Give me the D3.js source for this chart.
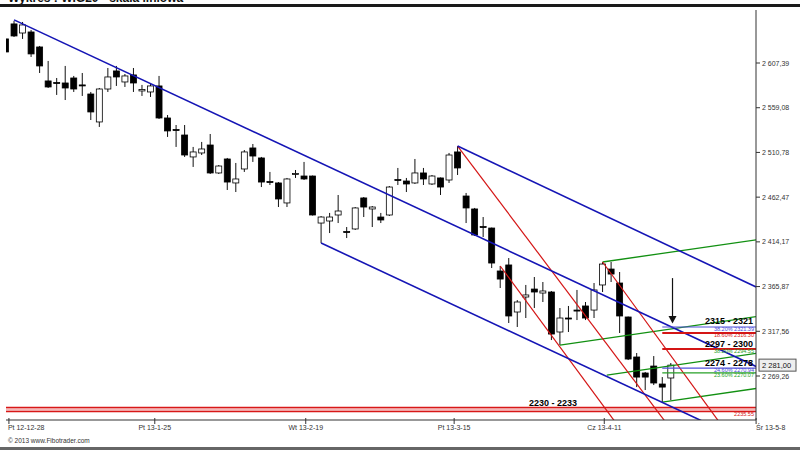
<!DOCTYPE html>
<html><head><meta charset="utf-8">
<script src="https://cdn.jsdelivr.net/npm/d3@7"></script>
<style>body{margin:0;background:#fff}svg{display:block}text{font-family:"Liberation Sans",Arial,sans-serif}</style>
</head><body><svg id="c" width="800" height="450"></svg>
<script>
// ---- data ----
const openV=[2633.4,2649.6,2639.8,2640.9,2624.7,2588.0,2586.3,2585.8,2591.2,2583.7,2573.9,2543.7,2579.3,2598.8,2586.9,2594.5,2577.2,2576.1,2582.6,2548.0,2535.5,2529.6,2505.9,2510.2,2518.8,2488.6,2503.7,2477.8,2492.9,2515.6,2504.8,2479.3,2477.8,2456.2,2487.5,2485.3,2485.3,2434.5,2436.7,2443.2,2425.3,2428.1,2461.6,2449.7,2441.0,2443.2,2481.5,2479.9,2477.8,2488.6,2476.7,2483.2,2481.0,2511.3,2463.7,2449.7,2430.7,2429.1,2382.7,2389.2,2338.4,2354.6,2363.2,2358.9,2360.0,2316.8,2331.9,2340.5,2344.9,2340.5,2367.6,2384.8,2369.7,2333.0,2289.8,2272.5,2280.0,2260.6,2267.1];
const highV=[2634.4,2652.8,2651.7,2643.1,2625.8,2609.6,2591.2,2604.2,2593.4,2596.6,2576.1,2580.4,2602.0,2604.2,2595.5,2602.0,2583.7,2584.7,2593.4,2551.2,2540.4,2540.4,2516.7,2522.1,2530.7,2497.2,2504.8,2499.4,2513.4,2519.9,2505.9,2489.7,2478.8,2483.2,2491.8,2500.5,2485.8,2442.1,2445.4,2464.8,2430.2,2451.8,2462.6,2452.9,2445.4,2474.5,2494.0,2483.2,2503.7,2494.0,2486.4,2483.7,2510.2,2517.7,2467.0,2450.8,2441.0,2429.6,2388.1,2396.7,2351.3,2367.6,2376.2,2370.8,2361.1,2342.7,2344.9,2362.2,2349.2,2369.7,2392.4,2392.4,2381.6,2333.5,2294.1,2273.6,2290.8,2268.1,2283.3];
const lowV=[2618.2,2635.5,2633.4,2613.9,2596.6,2580.4,2572.9,2567.4,2576.1,2571.8,2545.8,2538.3,2576.1,2582.6,2581.5,2576.1,2571.8,2570.7,2546.9,2527.5,2516.7,2505.9,2495.1,2508.0,2487.5,2487.5,2470.2,2468.0,2489.7,2500.5,2473.4,2475.6,2451.8,2451.8,2483.2,2481.0,2442.6,2412.9,2423.7,2434.5,2418.3,2427.0,2441.0,2430.2,2434.5,2442.1,2475.6,2468.0,2476.7,2475.6,2475.6,2464.8,2477.8,2486.4,2434.5,2420.5,2419.4,2385.9,2364.3,2326.5,2322.2,2331.9,2342.7,2349.2,2308.1,2302.7,2316.8,2329.7,2329.7,2331.9,2360.0,2370.8,2315.7,2286.5,2257.3,2254.1,2259.5,2241.1,2243.3];
const closeV=[2619.3,2636.6,2648.5,2617.2,2604.2,2581.5,2585.3,2580.4,2579.3,2583.2,2554.5,2579.3,2592.3,2592.3,2593.4,2585.8,2578.8,2582.6,2548.0,2534.0,2534.5,2508.0,2511.3,2514.5,2488.6,2496.1,2478.8,2482.1,2511.3,2506.9,2478.8,2478.8,2460.5,2482.1,2488.0,2482.1,2443.2,2441.0,2441.0,2447.5,2424.8,2450.8,2451.8,2451.8,2437.8,2473.4,2481.0,2476.7,2488.6,2482.1,2485.3,2473.4,2508.0,2494.0,2450.8,2421.6,2430.2,2391.3,2374.0,2334.1,2349.2,2356.8,2360.0,2361.1,2314.6,2331.9,2331.4,2340.0,2331.9,2362.2,2390.2,2379.4,2334.1,2287.6,2268.1,2268.1,2261.7,2257.3,2281.0];

const xTickLabels=["Pt 12-12-28","Pt 13-1-25","Wt 13-2-19","Pt 13-3-15","Cz 13-4-11","Śr 13-5-8"];
const xTickSlots=[0.4,17.5,35.2,52.6,70.2,88];
const yTickValues=[2269.26,2317.56,2365.87,2414.17,2462.47,2510.78,2559.08,2607.39];
const lastPrice=2281.00;

// trend lines: [slotStart, valueStart, slotEnd, valueEnd]
const blueLines=[[1,2654.0,88,2279.6],[37,2412.9,88,2193.4],[53,2517.7,88,2365.4]];
const redLines=[[53,2517.7,80,2187.5],[58,2388.1,74,2188.1],[70,2392.4,87,2177.5]];
const greenLines=[[70,2392.4,88,2416.4],[65,2302.7,88,2333.4],[70.5,2270.3,88,2293.7],[77,2241.1,88,2255.8]];

const zoneLabels=["2315 - 2321","2297 - 2300","2274 - 2278","2230 - 2233"];
const zoneValues=[2328.7,2303.8,2283.3,2240.1];
const levelTexts=["38.20% 2321.39","18.60% 2316.30","38.20% 2294.55","24.60% 2270.94","23.60% 2270.07","2235.55"];
const levelValues=[2322.2,2315.7,2298.4,2277.8,2272.6,2231.0];
const supportValues=[2235.0,2231.0];

// ---- scales ----
const svg=d3.select("#c");
const pL=6,pR=756,pT=8,pB=420;
const x=d3.scaleLinear().domain([0,88]).range([5.5,756.1]);
const y=d3.scaleLinear().domain([2269.26,2607.39]).range([376,63]);

svg.append("rect").attr("width",800).attr("height",450).attr("fill","#fff");
svg.append("defs").append("clipPath").attr("id","clip").append("rect")
  .attr("x",pL).attr("y",pT).attr("width",pR-pL).attr("height",pB-pT);

// title (cut at top edge as in the original)
svg.append("text").attr("x",8).attr("y",1.5).attr("font-size",12).attr("font-weight","bold").attr("fill","#111").text("Wykres : WIG20 - skala liniowa");
svg.append("rect").attr("x",0).attr("y",4).attr("width",800).attr("height",3).attr("fill","#1a1a1a");
svg.append("rect").attr("x",0).attr("y",447).attr("width",800).attr("height",3).attr("fill","#666");

const g=svg.append("g").attr("clip-path","url(#clip)");

supportValues.forEach(v=>{
  g.append("line").attr("x1",pL).attr("x2",pR).attr("y1",y(v)).attr("y2",y(v)).attr("stroke","#d81818").attr("stroke-width",1.8);
});
g.append("rect").attr("x",pL).attr("width",pR-pL).attr("y",y(supportValues[0])+0.9).attr("height",y(supportValues[1])-y(supportValues[0])-1.8).attr("fill","#f4b8b8");

// candles
const idx=d3.range(openV.length);
g.selectAll("line.wick").data(idx).join("line").attr("class","wick")
  .attr("x1",i=>x(i)).attr("x2",i=>x(i)).attr("y1",i=>y(highV[i])).attr("y2",i=>y(lowV[i]))
  .attr("stroke","#111").attr("stroke-width",1);
const bw=6;
g.selectAll("rect.body").data(idx).join("rect").attr("class","body")
  .attr("x",i=>x(i)-bw/2).attr("width",bw)
  .attr("y",i=>y(Math.max(openV[i],closeV[i])))
  .attr("height",i=>Math.max(1,Math.abs(y(openV[i])-y(closeV[i]))))
  .attr("fill",i=>closeV[i]>openV[i]?"#fff":"#000")
  .attr("stroke","#000").attr("stroke-width",0.8);

function drawLines(arr,color,w){
  arr.forEach(d=>{
    g.append("line").attr("x1",x(d[0])).attr("y1",y(d[1])).attr("x2",x(d[2])).attr("y2",y(d[3]))
      .attr("stroke",color).attr("stroke-width",w);
  });
}
drawLines(greenLines,"#129012",1.3);
drawLines(redLines,"#d41515",1.2);
drawLines(blueLines,"#1515b5",1.6);

const levelColors=["#5050d8","#d41515","#d41515","#5050d8","#27a027"];
const lvX0=x(77);
levelValues.slice(0,5).forEach((v,i)=>{
  g.append("line").attr("x1",lvX0).attr("x2",pR).attr("y1",y(v)).attr("y2",y(v)).attr("stroke",levelColors[i]).attr("stroke-width",i==1||i==2?2:1.2);
});
const lvTextColors=["#4a4ad8","#d41515","#27a027","#4a4ad8","#27a027","#d41515"];
levelTexts.forEach((t,i)=>{
  svg.append("text").attr("x",pR-2).attr("y",y(levelValues[i])+4.2).attr("text-anchor","end")
    .attr("font-size",5.5).attr("fill",lvTextColors[i]).text(t);
});
zoneLabels.forEach((t,i)=>{
  const last=i===3;
  svg.append("text").attr("x",last?x(67):pR-3).attr("y",y(zoneValues[i])+3).attr("text-anchor","end")
    .attr("font-size",9).attr("font-weight","bold").attr("fill","#000").text(t);
});

// arrow
const ax=x(78.2);
svg.append("line").attr("x1",ax).attr("x2",ax).attr("y1",y(2375)).attr("y2",y(2333)).attr("stroke","#111").attr("stroke-width",1.2);
svg.append("path").attr("d",`M${ax-4},${y(2334)} L${ax+4},${y(2334)} L${ax},${y(2326)} Z`).attr("fill","#111");

// right axis
svg.append("line").attr("x1",pR).attr("x2",pR).attr("y1",10).attr("y2",pB).attr("stroke","#333").attr("stroke-width",1);
const fmt=v=>{const s=v.toFixed(2).replace(".",",");return s.replace(/^(\d)(\d{3})/,"$1 $2");};
yTickValues.forEach(v=>{
  svg.append("line").attr("x1",pR).attr("x2",pR+4).attr("y1",y(v)).attr("y2",y(v)).attr("stroke","#333");
  svg.append("text").attr("x",pR+6).attr("y",y(v)+2.5).attr("font-size",7).attr("fill","#333").text(fmt(v));
});
svg.append("rect").attr("x",pR+3).attr("y",y(lastPrice)-6).attr("width",37).attr("height",12).attr("fill","#eee").attr("stroke","#555");
svg.append("text").attr("x",pR+6).attr("y",y(lastPrice)+3).attr("font-size",7.5).attr("fill","#111").text(fmt(lastPrice));

// bottom axis
svg.append("line").attr("x1",pL).attr("x2",pR).attr("y1",pB).attr("y2",pB).attr("stroke","#333");
xTickSlots.forEach((s,i)=>{
  const px=x(s);
  svg.append("line").attr("x1",px).attr("x2",px).attr("y1",pB-2).attr("y2",pB+4).attr("stroke","#333");
  svg.append("text").attr("x",i===0?px-1:px).attr("y",pB+10).attr("font-size",7).attr("fill","#333")
    .attr("text-anchor",i===0||i===5?"start":"middle").text(xTickLabels[i]);
});
svg.append("text").attr("x",8).attr("y",443).attr("font-size",6.5).attr("fill","#333").text("© 2013 www.Fibotrader.com");
</script></body></html>
